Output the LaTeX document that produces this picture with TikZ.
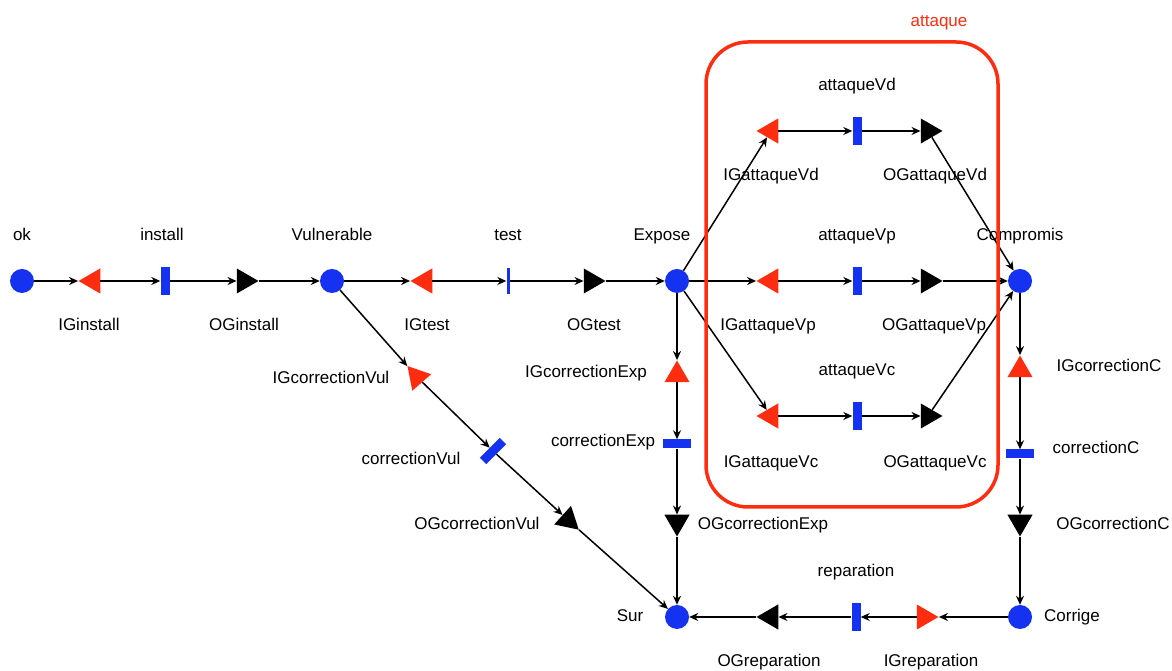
\documentclass[tikz,border=0pt]{standalone}
\usepackage{fontspec}
\setmainfont{Liberation Sans}
\usetikzlibrary{
        arrows.meta,
        positioning,
        shapes.geometric
    }
\definecolor{pnblue}{RGB}{20,50,240}
\definecolor{pnred}{RGB}{255,45,15}
\tikzset{>={Stealth[length=9pt,width=8pt]},shorten >=0pt,node distance=45pt}
\tikzset{
  place/.style={circle,fill=pnblue,minimum size=24pt,inner sep=0pt},
  igate/.style={regular polygon,regular polygon sides=3,fill=pnred,minimum size=29pt,inner sep=0pt},
  ogate/.style={regular polygon,regular polygon sides=3,fill=black,minimum size=29pt,inner sep=0pt},
  trans/.style={rectangle,fill=pnblue,minimum width=9pt,minimum height=28pt,inner sep=0pt},
  htrans/.style={trans,minimum width=28pt,minimum height=9pt},
  lbl/.style={font=\fontsize{17}{20}\selectfont,text height=12.5pt,text depth=3.5pt,inner sep=0pt,node distance=45pt}
}

\begin{document}
\begin{tikzpicture}[x=1pt,y=1pt]
                    \useasboundingbox (0,0) rectangle (1172,671);

                        \node[place] (ok) at (22,390) {};
                        \node[igate,shape border rotate=90] (igi) [node distance=71pt,right of=ok] {};
                        \node[trans] (inst) [node distance=72pt,right of=igi] {};
                        \node[ogate,shape border rotate=-90] (ogi) [node distance=79pt,right of=inst] {};
                        \node[place] (vul) [node distance=88pt,right of=ogi] {};
                        \node[igate,shape border rotate=90] (igt) [node distance=93pt,right of=vul] {};
                        \node[trans,minimum width=3pt,minimum height=26pt] (tst) [node distance=83pt,right of=igt] {};
                        \node[ogate,shape border rotate=-90] (ogt) [node distance=83pt,right of=tst] {};
                        \node[place] (expo) [node distance=86pt,right of=ogt] {};

                        \node[igate,shape border rotate=90] (igvp) [node distance=94pt,right of=expo] {};
                        \node[trans] (avp) [node distance=86pt,right of=igvp] {};
                        \node[ogate,shape border rotate=-90] (ogvp) [node distance=71pt,right of=avp] {};
                        \node[place] (comp) [node distance=92pt,right of=ogvp] {};
                        \node[igate,shape border rotate=90] (igvd) [node distance=150pt,above of=igvp] {};
                        \node[trans] (avd) [node distance=86pt,right of=igvd] {};
                        \node[ogate,shape border rotate=-90] (ogvd) [node distance=71pt,right of=avd] {};
                        \node[igate,shape border rotate=90] (igvc) [node distance=135pt,below of=igvp] {};
                        \node[trans] (avc) [node distance=86pt,right of=igvc] {};
                        \node[ogate,shape border rotate=-90] (ogvc) [node distance=71pt,right of=avc] {};

                        \node[igate] (igcc) [node distance=89pt,below of=comp] {};
                        \node[htrans] (corc) [node distance=84pt,below of=igcc] {};
                        \node[ogate,shape border rotate=180] (ogcc) [node distance=68pt,below of=corc] {};
                        \node[place] (corr) [node distance=95pt,below of=ogcc] {};
                        \node[igate,shape border rotate=-90] (igrep) [node distance=96pt,left of=corr] {};
                        \node[trans] (rep) [node distance=68pt,left of=igrep] {};
                        \node[ogate,shape border rotate=90] (ogrep) [node distance=85pt,left of=rep] {};
                        \node[place] (sur) [node distance=94pt,left of=ogrep] {};

                        \node[igate] (igce) [node distance=94pt,below of=expo] {};
                        \node[htrans] (core) [node distance=69pt,below of=igce] {};
                        \node[ogate,shape border rotate=180] (ogce) [node distance=78pt,below of=core] {};

                        \node[igate,shape border rotate=41] (igcv) [on grid,below right=96pt and 85pt of vul] {};
                        \node[trans,rotate=-45] (corv) [on grid,below right=74pt and 76pt of igcv] {};
                        \node[ogate,shape border rotate=-132] (ogcv) [on grid,below right=69pt and 75pt of corv] {};

                        \node[lbl] (l-ok) [above of=ok] {ok};
                        \node[lbl] (l-inst) [above of=inst,xshift=-3pt] {install};
                        \node[lbl] (l-vul) [above of=vul] {Vulnerable};
                        \node[lbl] (l-tst) [above of=tst] {test};
                        \node[lbl] (l-expo) [above of=expo,xshift=-15pt] {Expose};
                        \node[lbl] (l-comp) [above of=comp] {Compromis};
                        \node[lbl] (l-igi) [below of=igi,xshift=-4pt] {IGinstall};
                        \node[lbl] (l-ogi) [below of=ogi] {OGinstall};
                        \node[lbl] (l-igt) [below of=igt,xshift=2pt] {IGtest};
                        \node[lbl] (l-ogt) [below of=ogt,xshift=3pt] {OGtest};
                        \node[lbl] (l-avd) [above of=avd] {attaqueVd};
                        \node[lbl] (l-igvd) [below of=igvd] {IGattaqueVd};
                        \node[lbl] (l-ogvd) [below of=ogvd,xshift=7pt] {OGattaqueVd};
                        \node[lbl] (l-avp) [above of=avp] {attaqueVp};
                        \node[lbl] (l-igvp) [below of=igvp,xshift=-3pt] {IGattaqueVp};
                        \node[lbl] (l-ogvp) [below of=ogvp,xshift=6pt] {OGattaqueVp};
                        \node[lbl] (l-avc) [above of=avc] {attaqueVc};
                        \node[lbl] (l-igvc) [below of=igvc,yshift=-2pt] {IGattaqueVc};
                        \node[lbl] (l-ogvc) [below of=ogvc,xshift=7pt,yshift=-2pt] {OGattaqueVc};
                        \node[lbl] (l-igcc) [node distance=89pt,right of=igcc,yshift=3pt] {IGcorrectionC};
                        \node[lbl] (l-corc) [node distance=76pt,right of=corc,yshift=5pt] {correctionC};
                        \node[lbl] (l-ogcc) [node distance=93pt,right of=ogcc,yshift=-3pt] {OGcorrectionC};
                        \node[lbl] (l-corr) [node distance=52pt,right of=corr] {Corrige};
                        \node[lbl] (l-rep) [above of=rep] {reparation};
                        \node[lbl] (l-ogrep) [below of=ogrep,xshift=-2pt] {OGreparation};
                        \node[lbl] (l-igrep) [below of=igrep,xshift=7pt] {IGreparation};
                        \node[lbl] (l-sur) [node distance=47pt,left of=sur] {Sur};
                        \node[lbl] (l-igce) [node distance=91pt,left of=igce,yshift=2pt] {IGcorrectionExp};
                        \node[lbl] (l-core) [node distance=74pt,left of=core,yshift=2pt] {correctionExp};
                        \node[lbl] (l-ogce) [node distance=86pt,right of=ogce,yshift=-3pt] {OGcorrectionExp};
                        \node[lbl] (l-igcv) [node distance=86pt,left of=igcv,yshift=-2pt] {IGcorrectionVul};
                        \node[lbl] (l-corv) [node distance=82pt,left of=corv,yshift=-9pt] {correctionVul};
                        \node[lbl] (l-ogcv) [node distance=91pt,left of=ogcv,yshift=-5pt] {OGcorrectionVul};

                    \path[->,line width=1.5pt]
                            (ok)  edge  (igi)
                            (igi)  edge  (inst)
                            (inst)  edge  (ogi)
                            (ogi)  edge  (vul)
                            (vul)  edge  (igt)
                            (igt)  edge  (tst)
                            (tst)  edge  (ogt)
                            (ogt)  edge  (expo)
                            (expo)  edge  (igvd)
                            (expo)  edge  (igvp)
                            (expo)  edge  (igvc)
                            (igvd)  edge  (avd)
                            (avd)  edge  (ogvd)
                            (igvp)  edge  (avp)
                            (avp)  edge  (ogvp)
                            (igvc)  edge  (avc)
                            (avc)  edge  (ogvc)
                            (ogvd)  edge  (comp)
                            (ogvp)  edge  (comp)
                            (ogvc)  edge  (comp)
                            (comp)  edge  (igcc)
                            (igcc)  edge  (corc)
                            (corc)  edge  (ogcc)
                            (ogcc)  edge  (corr)
                            (corr)  edge  (igrep)
                            (igrep)  edge  (rep)
                            (rep)  edge  (ogrep)
                            (ogrep)  edge  (sur)
                            (expo)  edge  (igce)
                            (igce)  edge  (core)
                            (core)  edge  (ogce)
                            (ogce)  edge  (sur)
                            (vul)  edge  (igcv)
                            (igcv)  edge  (corv)
                            (corv)  edge  (ogcv)
                            (ogcv)  edge  (sur)
                            ;

                    % group attaque
                    \draw[pnred,line width=3.5pt,rounded corners=42pt] (706,164) rectangle (998,629);
                    \node[lbl,text=pnred] (l-att) at (939,649) {attaque};
            \end{tikzpicture}
\end{document}
